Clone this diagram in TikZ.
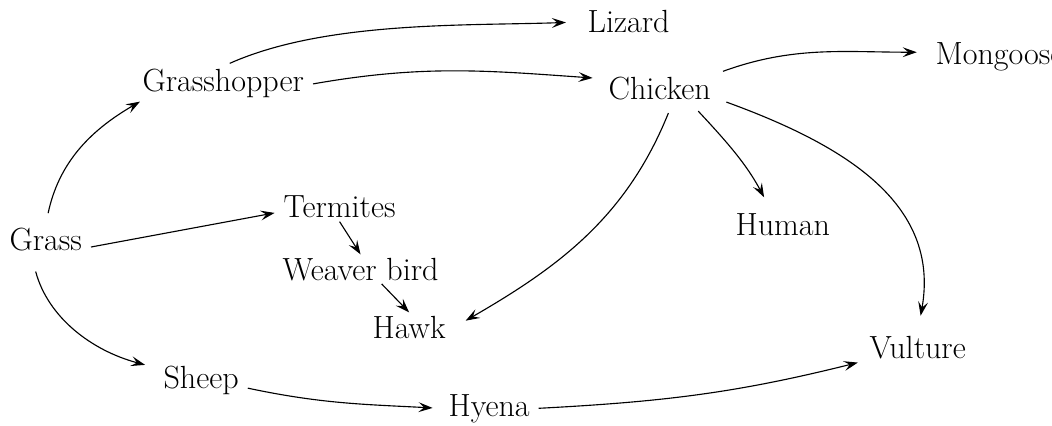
\documentclass[tikz,border=0pt]{standalone}
\usepackage{tikz}
\usetikzlibrary{ % tikz packages
    arrows.meta,positioning
}
\tikzset{animal/.style={
    anchor=base west,
    inner xsep=6pt,
    inner ysep=2pt,
    font=\fontsize{22.8}{27}\selectfont
}}
\tikzset{>={Stealth[length=10pt,width=7pt,inset=4pt]}}

\begin{document}
\begin{tikzpicture}[x=0.025cm,y=-0.025cm,line width=0.8pt]
        \useasboundingbox (0,0) rectangle (1052,426);

        \node[animal] (grass) at (0.6,250) {Grass};
        \node[animal] (hopper) at (133.6,92) {Grasshopper};
        \node[animal] (lizard) at (578.6,33) {Lizard};
        \node[animal] (chicken) at (599.6,100) {Chicken};
        \node[animal] (mongoose) at (926.6,65) {Mongoose};
        \node[animal] (termites) at (274.6,218) {Termites};
        \node[animal] (weaver) at (273.6,280) {Weaver bird};
        \node[animal] (hawk) at (363.6,338) {Hawk};
        \node[animal] (human) at (726.6,235) {Human};
        \node[animal] (vulture) at (860.6,358) {Vulture};
        \node[animal] (sheep) at (154.6,388) {Sheep};
        \node[animal] (hyena) at (439.6,416) {Hyena};

        \path[->]
            (grass.north)
                edge[out=78,in=210,shorten <=8pt] (hopper.-168)
            (grass.-10)
                edge (termites.185)
            (grass.-135)
                edge[out=-75,in=165,shorten <=13pt,shorten >=7pt] (sheep.165)
            (hopper.north)
                edge[out=24,in=182,looseness=0.8,shorten <=5pt,shorten >=9pt] (lizard.west)
            (hopper.east)
                edge[out=10,in=176,shorten >=5pt] (chicken.170)
            (chicken.15)
                edge[out=20,in=180,shorten <=6pt,shorten >=7pt] (mongoose.176)
            (chicken.-50)
                edge[out=-112,in=30,shorten <=7pt,shorten >=9pt] (hawk.east)
            (chicken.-25)
                edge[out=-47,in=118,shorten <=7pt,shorten >=10pt] (human.130)
            (chicken.-10)
                edge[out=-20,in=80,looseness=1.1,shorten <=5pt,shorten >=12pt] (vulture.north)
            (termites.south)
                edge (weaver.north)
            (weaver.-35)
                edge (hawk.north)
            (sheep.-10)
                edge[out=-12,in=177,shorten >=5pt] (hyena.west)
            (hyena.east)
                edge[out=3,in=-166,shorten >=2pt] (vulture.south west);
    \end{tikzpicture}
\end{document}
